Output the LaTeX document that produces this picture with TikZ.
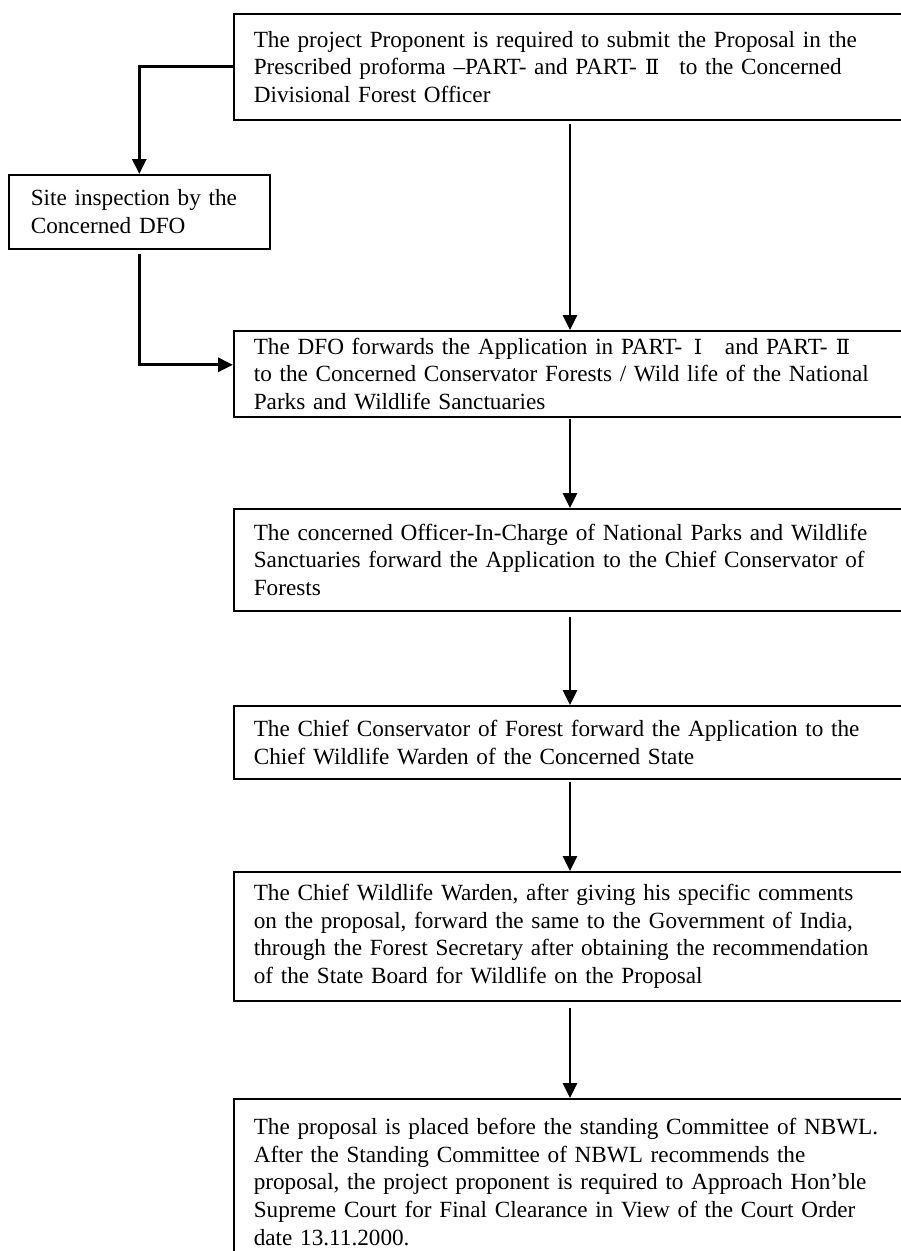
\documentclass[tikz,border=0pt]{standalone}
\usepackage{fontspec}
\setmainfont{Liberation Serif}
\newfontfamily\numfont[Scale=0.9]{DejaVu Serif}
\usetikzlibrary{arrows.meta}
\newcommand\numI{\makebox[1em]{\numfont Ⅰ}}
\newcommand\numII{\makebox[1em]{\numfont Ⅱ}}
\tikzset{
  box/.style={draw, line width=1.6pt, anchor=north west, align=left,
    inner xsep=20pt, inner ysep=0pt, minimum width=690pt,
    text width=650pt, font=\fontsize{23.2}{27.6}\selectfont},
  sidebox/.style={box, minimum width=261pt, text width=217pt, inner xsep=22pt},
  arr/.style={line width=2.6pt, -{Triangle[length=15pt,width=14pt]}},
  sidearr/.style={arr, line width=3pt}
}
\begin{document}
\begin{tikzpicture}[x=1pt,y=-1pt]
\useasboundingbox (0,0) rectangle (901,1251);
\clip (0,0) rectangle (901,1251);
\fill[white] (0,0) rectangle (901,1251);

\node[box, minimum height=106pt] (b1) at (233,13)
  {The project Proponent is required to submit the Proposal in the\\
   Prescribed proforma –PART- and PART-\,\numII\ \ to the Concerned\\
   Divisional Forest Officer};

\node[sidebox, minimum height=74pt] (site) at (8,174)
  {Site inspection by the\\ Concerned DFO};

\node[box, minimum height=86pt] (b2) at (233,330)
  {The DFO forwards the Application in PART-\,\numI\ \ and PART-\,\numII\\
   to the Concerned Conservator Forests / Wild life of the National\\
   Parks and Wildlife Sanctuaries};

\node[box, minimum height=102pt] (b3) at (233,508)
  {The concerned Officer-In-Charge of National Parks and Wildlife\\
   Sanctuaries forward the Application to the Chief Conservator of\\
   Forests};

\node[box, minimum height=73pt] (b4) at (233,705)
  {The Chief Conservator of Forest forward the Application to the\\
   Chief Wildlife Warden of the Concerned State};

\node[box, minimum height=129pt] (b5) at (233,871)
  {The Chief Wildlife Warden, after giving his specific comments\\
   on the proposal, forward the same to the Government of India,\\
   through the Forest Secretary after obtaining the recommendation\\
   of the State Board for Wildlife on the Proposal};

\node[box, minimum height=166pt] (b6) at (233,1098)
  {The proposal is placed before the standing Committee of NBWL.\\
   After the Standing Committee of NBWL recommends the\\
   proposal, the project proponent is required to Approach Hon’ble\\
   Supreme Court for Final Clearance in View of the Court Order\\
   date 13.11.2000.};

% side path
\draw[sidearr] (b1.west) -| (site.north);
\draw[sidearr, shorten <=4pt] (site.south) |- ([yshift=9pt]b2.west);

% main vertical arrows
\draw[arr, shorten <=3pt] ([xshift=337pt]b1.south west) -- ([xshift=337pt]b2.north west);
\draw[arr, shorten <=1pt] ([xshift=337pt]b2.south west) -- ([xshift=337pt]b3.north west);
\draw[arr, shorten <=5pt] ([xshift=337pt]b3.south west) -- ([xshift=337pt]b4.north west);
\draw[arr, shorten <=2pt] ([xshift=337pt]b4.south west) -- ([xshift=337pt]b5.north west);
\draw[arr, shorten <=6pt] ([xshift=337pt]b5.south west) -- ([xshift=337pt]b6.north west);
\end{tikzpicture}
\end{document}
